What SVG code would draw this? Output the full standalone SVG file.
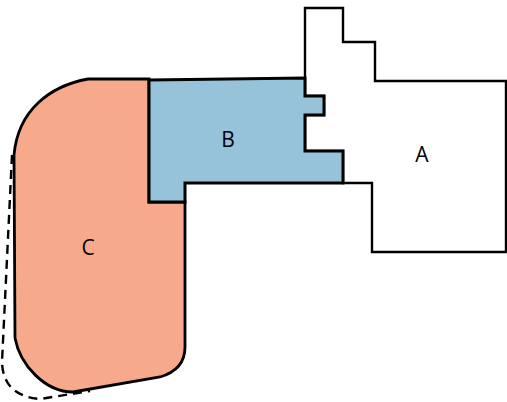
<svg xmlns="http://www.w3.org/2000/svg" width="507" height="402" viewBox="0 0 507 402">
<style>
text{font-family:"Open Sans","DejaVu Sans",sans-serif;font-size:21px;fill:#000;text-anchor:middle}
</style>
<rect width="507" height="402" fill="#fff"/>
<g id="connectors">
<path d="M12,155 L2,362 Q3,396 40,399 L90,391" fill="none" stroke="#000" stroke-width="2.4" stroke-dasharray="9,6"/>
</g>
<g id="A">
<path d="M305,8 L343,8 L343,42 L375,42 L375,81 L506,81 L506,252 L372,252 L372,183 L343,183 L343,151 L305,151 L305,115 L324,115 L324,96 L305,96 Z" fill="#fff" stroke="#000" stroke-width="2.4"/>
<text x="422" y="162" font-family="Open Sans, DejaVu Sans, sans-serif" font-size="21" text-anchor="middle">A</text>
</g>
<g id="C">
<path d="M88,79 L149,79 L149,202 L185,202 L185,347 C185,362 177,372 160,377 L73,392 C45,392 20,365 15,338 L14,155 C18,110 50,86 88,79 Z" fill="#f7aa8b" stroke="#000" stroke-width="2.8"/>
<text x="88" y="255" font-family="Open Sans, DejaVu Sans, sans-serif" font-size="21" text-anchor="middle">C</text>
</g>
<g id="B">
<path d="M149,80 L305,78 L305,96 L324,96 L324,115 L305,115 L305,151 L343,151 L343,183 L185,183 L185,202 L149,202 Z" fill="#96c3da" stroke="#000" stroke-width="3"/>
<text x="228" y="147" font-family="Open Sans, DejaVu Sans, sans-serif" font-size="21" text-anchor="middle">B</text>
</g>
</svg>
